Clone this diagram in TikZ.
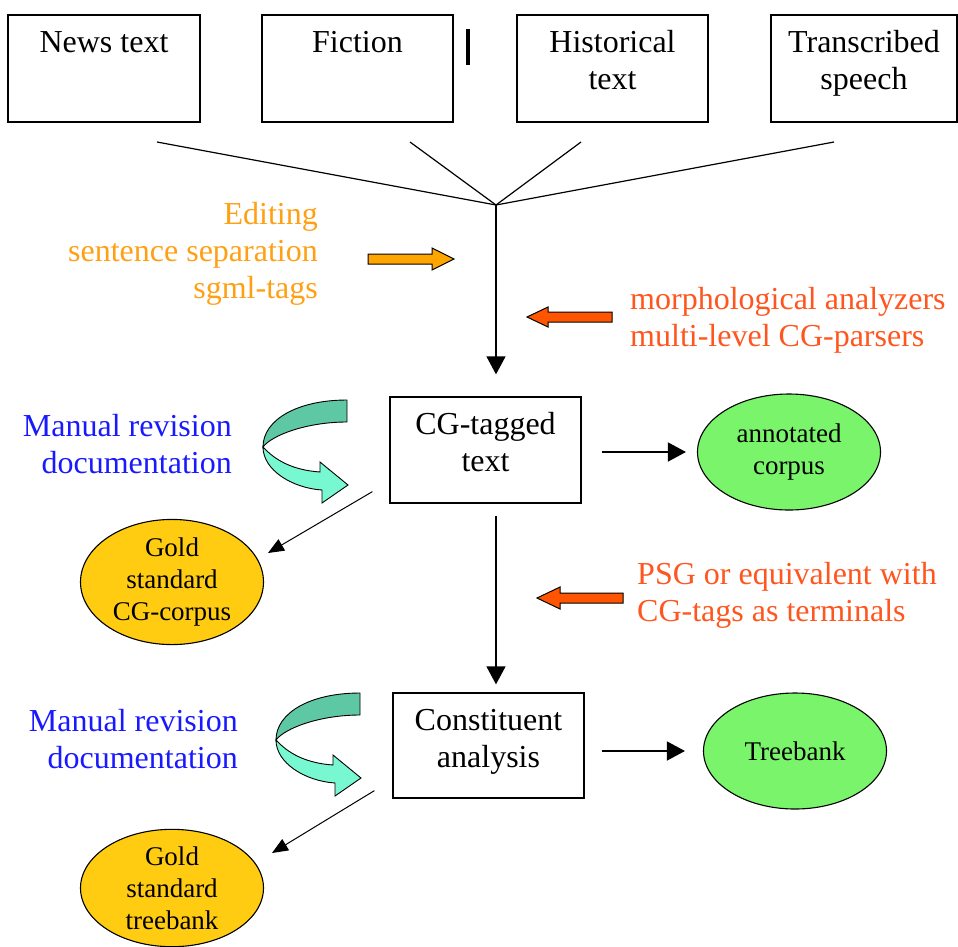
\documentclass[tikz,border=0pt]{standalone}
\usepackage{fontspec}
\setmainfont{Liberation Serif}
\usetikzlibrary{arrows.meta,shapes.geometric}
\definecolor{edorange}{RGB}{255,160,20}
\definecolor{arrorange}{RGB}{255,165,0}
\definecolor{toolred}{RGB}{255,85,30}
\definecolor{arrred}{RGB}{255,85,0}
\definecolor{manblue}{RGB}{25,25,255}
\definecolor{greenfill}{RGB}{122,245,107}
\definecolor{goldfill}{RGB}{255,204,17}
\definecolor{tealdark}{RGB}{94,199,163}
\definecolor{teallight}{RGB}{120,248,208}
\begin{document}
\begin{tikzpicture}[x=1pt,y=-1pt,
  bigfont/.style={font=\fontsize{32}{37}\selectfont},
  srcbox/.style={draw, line width=1.3pt, inner sep=0pt, minimum width=191pt, minimum height=107pt},
  boxtext/.style={bigfont, align=center, inner sep=0pt, anchor=base},
  resell/.style={ellipse, draw, line width=1.1pt, inner sep=0pt, minimum width=183pt, minimum height=116pt,
    align=center, font=\fontsize{27}{32}\selectfont},
  greenell/.style={resell, fill=greenfill},
  goldell/.style={resell, fill=goldfill},
  fanline/.style={line width=1.2pt},
  mainarrow/.style={line width=1.4pt, -{Triangle[length=18pt,width=19pt]}},
  diagarrow/.style={line width=1pt, -{Triangle[length=16pt,width=13pt]}},
  edtext/.style={bigfont, text=edorange, align=right, inner sep=0pt, anchor=base east},
  tooltext/.style={bigfont, text=toolred, align=left, inner sep=0pt, anchor=base west},
  mantext/.style={bigfont, text=manblue, align=right, inner sep=0pt, anchor=base east},
  blockarrow/.style={draw=black, line width=1pt, line join=miter},
  pics/twist/.style={code={
    \path[fill=tealdark, draw=black, line width=0.9pt]
      (0,0) .. controls (-50,0) and (-84,20) .. (-84,47)
      .. controls (-75,35) and (-40,22) .. (0,22) -- cycle;
    \path[fill=teallight, draw=black, line width=0.9pt]
      (-84,47) .. controls (-84,70) and (-55,88) .. (-25,90)
      -- (-25,103) -- (1,85) -- (-27,62) -- (-27,72)
      .. controls (-55,70) and (-72,60) .. (-84,47) -- cycle;
  }}
]
\useasboundingbox (0,0) rectangle (958,946);

% source boxes (base anchor = baseline of last line)
\node[srcbox, minimum width=192pt] (news) at (104,68.5) {};
\node[boxtext] at ([yshift=-38pt]news.north) {News text};
\node[srcbox] (fiction) at (357.5,68.5) {};
\node[boxtext] at ([yshift=-38pt]fiction.north) {Fiction};
\node[srcbox] (hist) at (612.5,68.5) {};
\node[boxtext] at ([yshift=-75pt]hist.north) {Historical\\text};
\node[srcbox, minimum width=186pt] (trans) at (864,68.5) {};
\node[boxtext] at ([yshift=-75pt]trans.north) {Transcribed\\speech};
\draw[line width=3.5pt] (468,29) -- (468,65);

% fan of lines
\coordinate (hub) at (496,205);
\coordinate (f1) at (157,142);
\coordinate (f2) at (410,142);
\coordinate (f3) at (581,142);
\coordinate (f4) at (834,142);
\draw[fanline] (f1) -- (hub);
\draw[fanline] (f2) -- (hub);
\draw[fanline] (f3) -- (hub);
\draw[fanline] (f4) -- (hub);

% CG-tagged text
\node[srcbox, minimum height=106pt] (cg) at (485.5,450) {};
\node[boxtext] at ([yshift=-75pt]cg.north) {CG-tagged\\text};
\draw[mainarrow, shorten >=22pt] (hub) -- (hub |- cg.north);

% editing
\node[edtext] (edit) at (318,298) {Editing\\sentence separation\\sgml-tags};
\path[blockarrow, fill=arrorange] (368,254) -- (432,254) -- (432,248) -- (454,259) -- (432,270) -- (432,264) -- (368,264) -- cycle;

% morphological
\node[tooltext] (morph) at (630,346) {morphological analyzers\\multi-level CG-parsers};
\path[blockarrow, fill=arrred] (612,312) -- (548,312) -- (548,307) -- (527,317) -- (548,327) -- (548,322) -- (612,322) -- cycle;

% annotated corpus
\node[greenell] (ann) at (789,452) {annotated\\corpus};
\draw[mainarrow, shorten <=20pt, shorten >=11pt] (cg.east |- ann.west) -- (ann.west);

% manual revision 1
\node[mantext] (man1) at (232,473) {Manual revision\\documentation};
\pic at (347,400) {twist};

% gold standard CG corpus
\node[goldell, minimum height=114pt] (gold1) at (172,582) {Gold\\standard\\CG-corpus};
\draw[diagarrow] ([shift={(-17,-12)}]cg.south west) -- ([shift={(96,-29)}]gold1.center);

% constituent analysis
\node[srcbox, minimum height=105pt] (cons) at (488.5,745.5) {};
\node[boxtext] at ([yshift=-75pt]cons.north) {Constituent\\analysis};
\draw[mainarrow, shorten <=12pt, shorten >=8pt] (hub |- cg.south) -- (hub |- cons.north);

% PSG
\node[tooltext] (psg) at (637,621) {PSG or equivalent with\\CG-tags as terminals};
\path[blockarrow, fill=arrred] (623,593) -- (560,593) -- (560,587) -- (537,598) -- (560,609) -- (560,603) -- (623,603) -- cycle;

% treebank
\node[greenell] (tree) at (795,751) {Treebank};
\draw[mainarrow, shorten <=17pt, shorten >=18pt] (cons.east |- tree.west) -- (tree.west);

% manual revision 2
\node[mantext] (man2) at (238,768) {Manual revision\\documentation};
\pic at (360,693) {twist};

% gold standard treebank
\node[goldell] (gold2) at (172,888) {Gold\\standard\\treebank};
\draw[diagarrow] ([shift={(-18,-8)}]cons.south west) -- ([shift={(100,-35)}]gold2.center);
\end{tikzpicture}
\end{document}
